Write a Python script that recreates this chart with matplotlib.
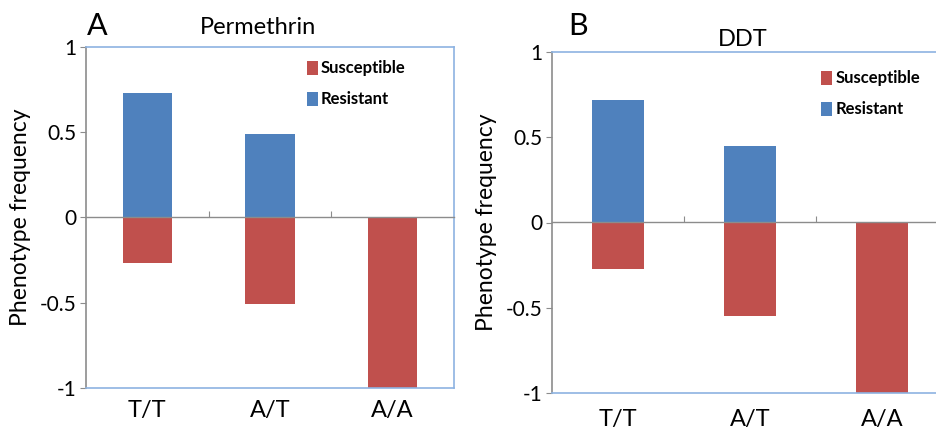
import numpy as np
import matplotlib
matplotlib.use('Agg')
import matplotlib.pyplot as plt

plt.rcParams['font.family'] = ['Lato', 'DejaVu Sans']

genotypes = ['T/T', 'A/T', 'A/A']
perm_resistant = [0.73, 0.49, 0.0]
perm_susceptible = [-0.27, -0.51, -1.0]
ddt_resistant = [0.72, 0.45, 0.0]
ddt_susceptible = [-0.275, -0.55, -1.0]

red = '#C0504D'
blue = '#4F81BD'
frame = '#8DB3E2'
grey = '#8C8C8C'

W, H = 936, 429
fig = plt.figure(figsize=(W / 100, H / 100), dpi=100)


def panel(rect, res, sus, title, letter, title_xy, letter_xy, leg_anchor, xpad):
    ax = fig.add_axes(rect)
    x = np.arange(len(genotypes))
    ax.bar(x, sus, width=0.4, color=red, label='Susceptible', zorder=2)
    ax.bar(x, res, width=0.4, color=blue, label='Resistant', zorder=2)
    ax.set_xlim(-0.5, len(genotypes) - 0.5)
    ax.set_ylim(-1, 1)
    ax.set_yticks([-1, -0.5, 0, 0.5, 1], labels=['-1', '-0.5', '0', '0.5', '1'])
    ax.set_xticks(x, labels=genotypes)
    ax.tick_params(axis='x', length=0, pad=xpad, labelsize=17)
    ax.tick_params(axis='y', direction='out', length=4, color=grey, labelsize=15, pad=3)
    for s in ['top', 'right', 'bottom']:
        ax.spines[s].set_color(frame)
        ax.spines[s].set_linewidth(1.2)
    ax.spines['left'].set_color(grey)
    ax.spines['left'].set_linewidth(1.2)
    # zero axis with tick marks between categories
    sec = ax.secondary_xaxis(0.5)
    sec.set_xticks(x[:-1] + 0.5, labels=[])
    sec.tick_params(direction='out', length=4, color=grey)
    for s in sec.spines.values():
        s.set_color(grey)
        s.set_linewidth(1.0)
    sec.set_zorder(3)
    ax.set_ylabel('Phenotype frequency', fontsize=16.5, labelpad=6)
    ax.legend(loc='upper left', bbox_to_anchor=leg_anchor, frameon=False,
              handlelength=0.65, handleheight=0.9, handletextpad=0.2,
              labelspacing=0.9, borderpad=0, borderaxespad=0,
              prop={'size': 12, 'weight': 'bold'})
    fig.text(title_xy[0] / W, 1 - title_xy[1] / H, title, fontsize=17,
             ha='center', va='center')
    fig.text(letter_xy[0] / W, 1 - letter_xy[1] / H, letter, fontsize=22,
             ha='center', va='center')
    return ax


panel([86 / W, 41 / H, 368 / W, 341.3 / H], perm_resistant, perm_susceptible,
      'Permethrin', 'A', (258, 28), (97, 26), (0.6, 0.96), 9)
panel([552 / W, 35.7 / H, 396 / W, 341.6 / H], ddt_resistant, ddt_susceptible,
      'DDT', 'B', (743, 40), (578, 26), (0.68, 0.945), 11)

fig.savefig('out.png', dpi=100)
